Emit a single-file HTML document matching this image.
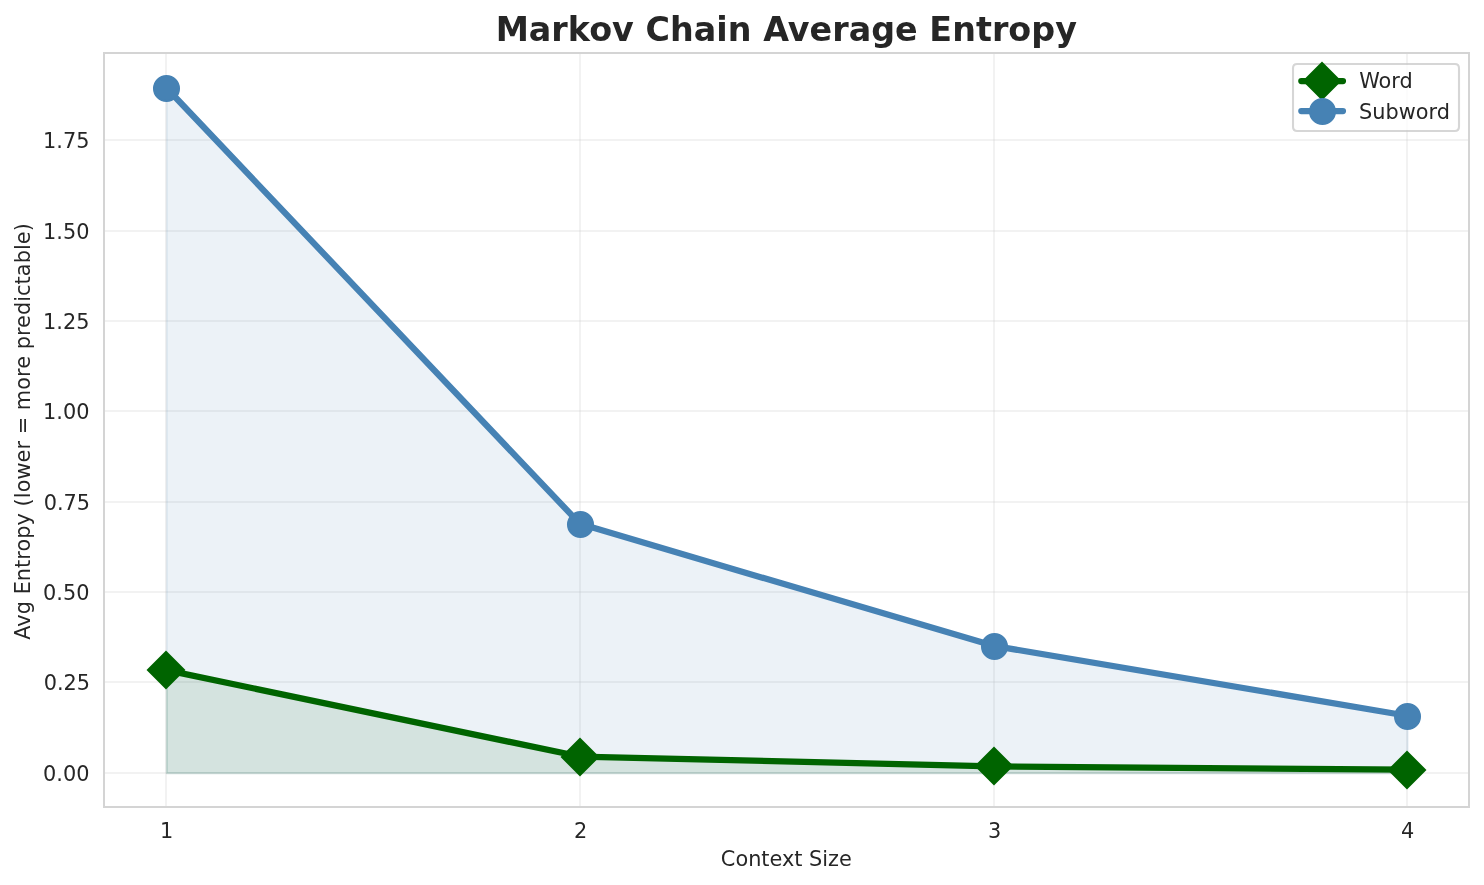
<!DOCTYPE html>
<html><head><meta charset="utf-8"><title>Markov Chain Average Entropy</title>
<style>html,body{margin:0;padding:0;background:#fff;overflow:hidden}svg{display:block;will-change:transform}</style>
</head><body>
<svg width="1484" height="885" viewBox="0 0 1484 885">
<defs><clipPath id="ax"><rect x="104.292" y="53.5" width="1364.958" height="753.583"/></clipPath></defs>
<rect x="0" y="0" width="1484" height="885" fill="#ffffff"/>
<g fill="#cccccc" fill-opacity="0.25" clip-path="url(#ax)">
<rect x="165" y="52" width="2" height="757"/>
<rect x="579" y="52" width="2" height="757"/>
<rect x="993" y="52" width="2" height="757"/>
<rect x="1406" y="52" width="2" height="757"/>
<rect x="102" y="139" width="1369" height="2"/>
<rect x="102" y="230" width="1369" height="2"/>
<rect x="102" y="320" width="1369" height="2"/>
<rect x="102" y="410" width="1369" height="2"/>
<rect x="102" y="501" width="1369" height="2"/>
<rect x="102" y="591" width="1369" height="2"/>
<rect x="102" y="681" width="1369" height="2"/>
<rect x="102" y="772" width="1369" height="2"/>
</g>
<g clip-path="url(#ax)"><g transform="translate(0.5 0.5)" stroke-width="2.0833" stroke-linejoin="round">
<path d="M 166.335 772.83 L 166.335 670.122 L 579.959 756.561 L 993.583 766.322 L 1407.206 769.648 L 1407.206 772.83 Z" fill="#006400" fill-opacity="0.1" stroke="#006400" stroke-opacity="0.1"/>
<path d="M 166.335 772.83 L 166.335 87.754 L 579.959 523.852 L 993.583 645.865 L 1407.206 715.71 L 1407.206 772.83 Z" fill="#4682b4" fill-opacity="0.1" stroke="#4682b4" stroke-opacity="0.1"/>
</g></g>
<g clip-path="url(#ax)">
<path d="M 166.335 670.122 L 579.959 756.561 L 993.583 766.322 L 1407.206 769.648" fill="none" stroke="#006400" stroke-width="6.25" stroke-linecap="round" stroke-linejoin="round"/>
<g fill="#006400" stroke="#006400" stroke-width="2.0833" stroke-linejoin="miter">
<path d="M 166 688 L 184 670 L 166 652 L 148 670 Z"/>
<path d="M 580 775 L 598 757 L 580 739 L 562 757 Z"/>
<path d="M 994 784 L 1012 766 L 994 748 L 976 766 Z"/>
<path d="M 1407 788 L 1425 770 L 1407 752 L 1389 770 Z"/>
</g>
<path d="M 166.335 87.754 L 579.959 523.852 L 993.583 645.865 L 1407.206 715.71" fill="none" stroke="#4682b4" stroke-width="6.25" stroke-linecap="round" stroke-linejoin="round"/>
<g fill="#4682b4" stroke="#4682b4" stroke-width="2.0833">
<circle cx="166.5" cy="88.5" r="12.5"/>
<circle cx="580.5" cy="524.5" r="12.5"/>
<circle cx="994.5" cy="646.5" r="12.5"/>
<circle cx="1407.5" cy="716.5" r="12.5"/>
</g>
</g>
<g fill="#d4d4d4">
<rect x="103" y="52" width="1367" height="2"/>
<rect x="103" y="806" width="1367" height="2"/>
<rect x="103" y="52" width="2" height="756"/>
<rect x="1468" y="52" width="2" height="756"/>
</g>
<text x="159.702" y="838.497" style="font-size:20.833px;font-family:'DejaVu Sans', 'Liberation Sans', sans-serif;fill:#262626" transform="translate(0.2 -0.8)">1</text>
<text x="573.326" y="838.497" style="font-size:20.833px;font-family:'DejaVu Sans', 'Liberation Sans', sans-serif;fill:#262626" transform="translate(0.6 -0.8)">2</text>
<text x="987.95" y="838.497" style="font-size:20.833px;font-family:'DejaVu Sans', 'Liberation Sans', sans-serif;fill:#262626" transform="translate(0 -0.8)">3</text>
<text x="1400.573" y="838.497" style="font-size:20.833px;font-family:'DejaVu Sans', 'Liberation Sans', sans-serif;fill:#262626" transform="translate(0.4 -0.8)">4</text>
<text x="721.279" y="865.993" style="font-size:20.833px;font-family:'DejaVu Sans', 'Liberation Sans', sans-serif;fill:#262626" transform="translate(-0.4 -0.4)">Context Size</text>
<text x="43.317" y="780.745" style="font-size:20.833px;font-family:'DejaVu Sans', 'Liberation Sans', sans-serif;fill:#262626" transform="translate(-0.2 -0.2)">0.00</text>
<text x="43.317" y="690.365" style="font-size:20.833px;font-family:'DejaVu Sans', 'Liberation Sans', sans-serif;fill:#262626" transform="translate(0.4 -0.8)">0.25</text>
<text x="43.317" y="599.986" style="font-size:20.833px;font-family:'DejaVu Sans', 'Liberation Sans', sans-serif;fill:#262626" transform="translate(-0.2 -0.4)">0.50</text>
<text x="43.317" y="509.606" style="font-size:20.833px;font-family:'DejaVu Sans', 'Liberation Sans', sans-serif;fill:#262626" transform="translate(0.4 0)">0.75</text>
<text x="43.317" y="419.227" style="font-size:20.833px;font-family:'DejaVu Sans', 'Liberation Sans', sans-serif;fill:#262626" transform="translate(-0.2 -0.6)">1.00</text>
<text x="43.317" y="328.848" style="font-size:20.833px;font-family:'DejaVu Sans', 'Liberation Sans', sans-serif;fill:#262626" transform="translate(-0.2 -0.2)">1.25</text>
<text x="43.317" y="239.468" style="font-size:20.833px;font-family:'DejaVu Sans', 'Liberation Sans', sans-serif;fill:#262626" transform="translate(-0.2 -0.8)">1.50</text>
<text x="43.317" y="148.089" style="font-size:20.833px;font-family:'DejaVu Sans', 'Liberation Sans', sans-serif;fill:#262626" transform="translate(-0.2 -0.4)">1.75</text>
<text x="-178.625" y="431.292" style="font-size:20.833px;font-family:'DejaVu Sans', 'Liberation Sans', sans-serif;fill:#262626" transform="translate(0 0.2) rotate(-90 29.656 431.292)" textLength="416.563" lengthAdjust="spacing">Avg Entropy (lower = more predictable)</text>
<text x="495.63" y="41" style="font-weight:700;font-size:33.333px;font-family:'DejaVu Sans', 'Liberation Sans', sans-serif;fill:#262626" transform="translate(0 -0.4)" textLength="581.281" lengthAdjust="spacing">Markov Chain Average Entropy</text>
<path d="M 1297.167 131 L 1454.833 131 Q 1459 131 1459 126.833 L 1459 68.167 Q 1459 64 1454.833 64 L 1297.167 64 Q 1293 64 1293 68.167 L 1293 126.833 Q 1293 131 1297.167 131 Z" fill="#ffffff" stroke="#cccccc" stroke-width="2.0833" stroke-linejoin="miter" opacity="0.8"/>
<path d="M 1301.301 81 L 1342.967 81" fill="none" stroke="#006400" stroke-width="6.25" stroke-linecap="round"/>
<g fill="#006400" stroke="#006400" stroke-width="2.0833" stroke-linejoin="miter"><path d="M 1322 99 L 1340 81 L 1322 63 L 1304 81 Z"/></g>
<text x="1359.634" y="88.08" style="font-size:20.833px;font-family:'DejaVu Sans', 'Liberation Sans', sans-serif;fill:#262626" transform="translate(-0.4 -0.4)">Word</text>
<path d="M 1301.301 111 L 1342.967 111" fill="none" stroke="#4682b4" stroke-width="6.25" stroke-linecap="round"/>
<circle cx="1322.5" cy="111.5" r="12.5" fill="#4682b4" stroke="#4682b4" stroke-width="2.0833"/>
<text x="1359.634" y="118.66" style="font-size:20.833px;font-family:'DejaVu Sans', 'Liberation Sans', sans-serif;fill:#262626" transform="translate(-0.6 0)">Subword</text>
</svg>
</body></html>
